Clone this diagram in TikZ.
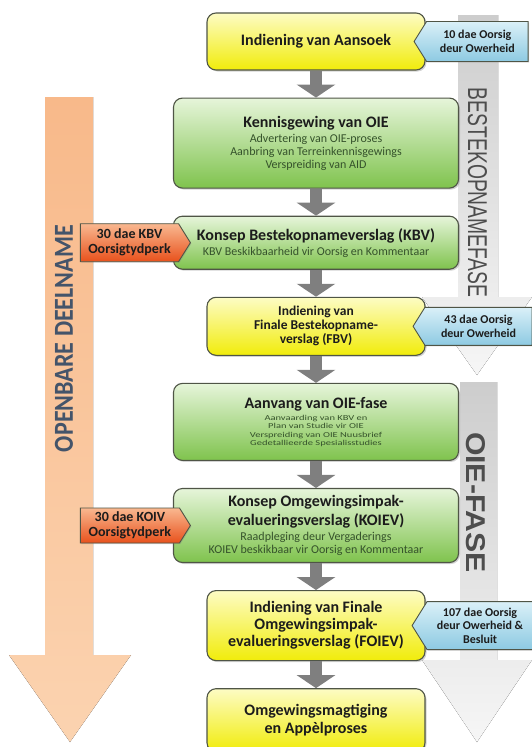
\documentclass[tikz,border=0pt]{standalone}
\usepackage{fontspec}
\setmainfont{Carlito}
\newfontfamily\phasefont{Liberation Sans}
\usepackage{graphicx}
\usepackage{xcolor}
\definecolor{cYellowTop}{HTML}{FDFCC4}
\definecolor{cYellowBot}{HTML}{F1EC0A}
\definecolor{cGreenTop}{HTML}{E6F5DA}
\definecolor{cGreenBot}{HTML}{7FC34D}
\definecolor{cBlueTop}{HTML}{DAF0F8}
\definecolor{cBlueBot}{HTML}{8DCAE2}
\definecolor{cOrangeTop}{HTML}{F9B890}
\definecolor{cOrangeBot}{HTML}{E8511C}
\definecolor{cEdge}{HTML}{4F5546}
\definecolor{cText}{HTML}{1C1C1C}
\definecolor{cSub}{HTML}{35522B}
\definecolor{cFlow}{HTML}{7F7F7F}
\definecolor{cPeach}{HTML}{F8B98A}
\definecolor{cPeachLight}{HTML}{FBD3B0}
\definecolor{cPhase}{HTML}{CDCDCD}
\definecolor{cPhaseLight}{HTML}{F6F6F6}
\definecolor{cSlate}{HTML}{44546A}
\definecolor{cPhaseText}{HTML}{4D4D4D}
\usepackage{tikz}
\usetikzlibrary{positioning,arrows.meta,shapes.symbols,shadows}
\newcommand\boxtitle{\fontsize{16}{17}\bfseries\color{cText}}
\newcommand\boxsub{\color{cSub}}
\newcommand\squashsub[1]{{\color{cSub}\scalebox{1}[0.72]{#1}}}
\tikzset{
  node-box/.style={draw=cEdge,line width=1.1pt,rounded corners=9pt,
    align=center,text=cText,minimum width=285pt,
    drop shadow={shadow xshift=1.5pt,shadow yshift=-1.5pt,opacity=.35}},
  node-yellow/.style={node-box,top color=cYellowTop,bottom color=cYellowBot,
    minimum width=218pt,font=\fontsize{16}{17}\bfseries},
  node-green/.style={node-box,top color=cGreenTop,bottom color=cGreenBot,
    font=\fontsize{12}{13}\selectfont},
  node-callout/.style={signal,signal pointer angle=116,draw=cEdge,
    line width=.9pt,align=center,text=cText,inner sep=1pt,
    drop shadow={shadow xshift=1pt,shadow yshift=-1pt,opacity=.3}},
  callout-blue/.style={node-callout,signal to=west,font=\fontsize{12}{13.5}\bfseries,
    top color=cBlueTop,bottom color=cBlueBot},
  callout-orange/.style={node-callout,signal to=east,font=\fontsize{14}{15}\bfseries,
    top color=cOrangeTop,bottom color=cOrangeBot},
  arrow-flow/.style={-{Triangle[length=13pt,width=38pt]},line width=12pt,draw=cFlow},
  phase-arrow/.style={top color=cPhase,bottom color=cPhaseLight},
}

\begin{document}
\begin{tikzpicture}[x=1pt,y=-1pt,node distance=27pt]
  \useasboundingbox (0,0) rectangle (531,747);
  % band arrows behind the flow
  \fill[top color=cPeach,bottom color=cPeachLight]
    (45,97) -- (93,97) -- (93,655) -- (131,655) -- (70,742) -- (9,655) -- (45,655) -- cycle;
  \fill[phase-arrow] (458,15) -- (498,15) -- (498,297) -- (532,297) -- (477,375)
    -- (422,297) -- (458,297) -- cycle;
  \fill[phase-arrow] (460,382) -- (497,382) -- (497,660) -- (532,660) -- (477,742)
    -- (422,660) -- (460,660) -- cycle;
  \node[rotate=90,text=cSlate] (deelname) at (64,338.5)
    {\resizebox{227pt}{18pt}{\bfseries OPENBARE DEELNAME}};
  \node[rotate=-90,text=cPhaseText] (bestek-fase) at (477.5,192.5)
    {\resizebox{209pt}{19pt}{\phasefont BESTEKOPNAMEFASE}};
  \node[rotate=-90,text=cPhaseText] (oie-fase) at (476,502.5)
    {\resizebox{141pt}{19pt}{\phasefont\bfseries OIE-FASE}};

  % process steps
  \node[node-yellow,minimum height=57pt] (aansoek) at (316,41.5) {Indiening van Aansoek};
  \node[node-green,minimum height=90pt,below=of aansoek] (kennisgewing)
    {{\boxtitle Kennisgewing van OIE}\\[2pt]
     {\boxsub Advertering van OIE-proses}\\
     {\boxsub Aanbring van Terreinkennisgewings}\\
     {\boxsub Verspreiding van AID}};
  \node[node-green,minimum height=53pt,below=of kennisgewing] (kbv)
    {{\boxtitle Konsep Bestekopnameverslag (KBV)}\\[2pt]
     {\boxsub KBV Beskikbaarheid vir Oorsig en Kommentaar}};
  \node[node-yellow,minimum height=58pt,below=of kbv,
    font=\fontsize{13.5}{14}\bfseries] (fbv)
    {Indiening van\\Finale Bestekopname-\\verslag (FBV)};
  \node[node-green,minimum height=77pt,below=of fbv,
    font=\fontsize{10.5}{8.3}\selectfont] (aanvang)
    {{\boxtitle Aanvang van OIE-fase}\\[4pt]
     \squashsub{Aanvaarding van KBV en}\\
     \squashsub{Plan van Studie vir OIE}\\
     \squashsub{Verspreiding van OIE Nuusbrief}\\
     \squashsub{Gedetallieerde Spesialisstudies}};
  \node[node-green,minimum height=74pt,below=of aanvang] (koiev)
    {{\boxtitle Konsep Omgewingsimpak-}\\[4pt]
     {\boxtitle evalueringsverslag (KOIEV)}\\[2pt]
     {\boxsub Raadpleging deur Vergaderings}\\
     {\boxsub KOIEV beskikbaar vir Oorsig en Kommentaar}};
  \node[node-yellow,minimum height=70pt,below=of koiev] (foiev)
    {Indiening van Finale\\Omgewingsimpak-\\evalueringsverslag (FOIEV)};
  \node[node-yellow,minimum height=63pt,below=of foiev,
    font=\fontsize{16}{18}\bfseries] (magtiging)
    {Omgewingsmagtiging\\en App\`elproses};

  \draw[arrow-flow] (aansoek) -- (kennisgewing);
  \draw[arrow-flow] (kennisgewing) -- (kbv);
  \draw[arrow-flow] (kbv) -- (fbv);
  \draw[arrow-flow] (fbv) -- (aanvang);
  \draw[arrow-flow] (aanvang) -- (koiev);
  \draw[arrow-flow] (koiev) -- (foiev);
  \draw[arrow-flow] (foiev) -- (magtiging);

  % time periods
  \node[callout-blue,anchor=west,minimum width=114pt,minimum height=40pt]
    (days-aansoek) at ([xshift=-12pt]aansoek.east) {10 dae Oorsig\\deur Owerheid};
  \node[callout-blue,anchor=west,minimum width=119pt,minimum height=38pt]
    (days-fbv) at ([xshift=-13pt]fbv.east) {43 dae Oorsig\\deur Owerheid};
  \node[callout-blue,anchor=west,minimum width=121pt,minimum height=48pt]
    (days-foiev) at ([xshift=-14pt]foiev.east) {107 dae Oorsig\\deur Owerheid \&\\Besluit};
  \node[callout-orange,anchor=east,minimum width=110pt,minimum height=38pt]
    (days-kbv) at ([xshift=18pt]kbv.west) {30 dae KBV\\Oorsigtydperk};
  \node[callout-orange,anchor=east,minimum width=110pt,minimum height=35pt]
    (days-koiev) at ([xshift=18pt]koiev.west) {30 dae KOIV\\Oorsigtydperk};
\end{tikzpicture}
\end{document}
